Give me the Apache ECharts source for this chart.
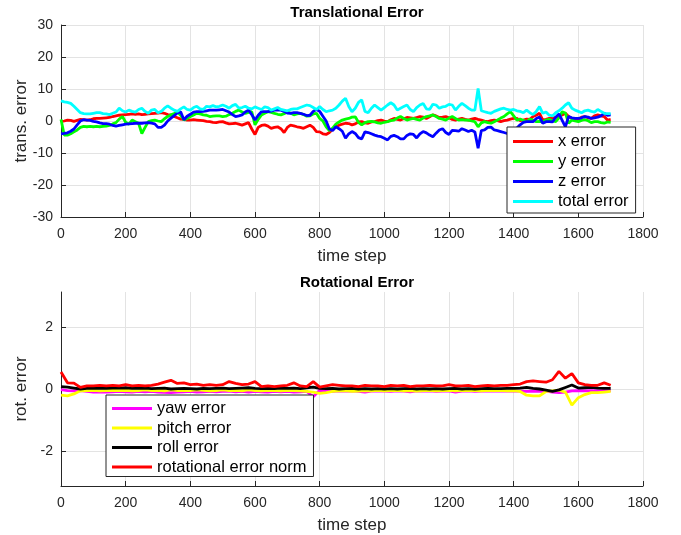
<!DOCTYPE html>
<html>
<head>
<meta charset="utf-8">
<script src="https://cdn.jsdelivr.net/npm/echarts@6/dist/echarts.min.js"></script>
<style>
  html, body { margin: 0; padding: 0; background: #fff; }
  #chart { width: 681px; height: 535px; }
</style>
</head>
<body>
<div id="chart"></div>
<script>
// time steps (top: every 10 steps, bottom: every 20 steps)
const transSteps = Array.from({ length: 171 }, (_, i) => i * 10);
const rotSteps = Array.from({ length: 86 }, (_, i) => i * 20);

// translational error
const xErr = [
  -0.2, 0.0, 0.3, 0.2, -0.1, 0.2, 0.5, 0.4, 0.3, 0.4,
  0.7, 0.8, 0.8, 0.9, 1.0, 1.1, 1.4, 1.6, 1.8, 1.9,
  2.0, 2.1, 2.2, 2.1, 2.2, 2.0, 2.1, 2.2, 2.3, 2.4,
  2.5, 2.6, 2.4, 2.0, 1.9, 1.4, 1.0, 0.6, 0.5, 0.3,
  0.3, 0.4, 0.3, 0.2, 0.1, -0.1, -0.2, -0.4, -0.5, -0.3,
  -0.2, -0.6, -0.9, -0.8, -0.7, -1.0, -1.3, -0.9, -0.5, -2.5,
  -4.2, -2.0, -1.4, -1.2, -1.6, -2.3, -2.0, -1.8, -2.4, -3.6,
  -2.0, -1.3, -1.5, -1.8, -2.0, -2.3, -1.8, -1.3, -2.0, -3.3,
  -3.4, -4.0, -4.2, -3.6, -2.6, -1.8, -1.3, -1.0, -0.7, -0.8,
  -1.2, -0.9, -0.3, -0.2, -0.6, -0.7, -0.3, -0.2, 0.1, 0.3,
  0.0, -0.2, 0.4, 0.8, 0.5, 0.3, 0.7, 1.1, 1.0, 0.8,
  1.1, 1.4, 1.2, 0.8, 1.3, 1.9, 1.6, 1.1, 1.2, 1.4,
  1.0, 0.5, 0.3, 0.6, 0.8, 0.5, 0.3, 0.6, 0.8, 0.5,
  0.3, 0.0, -0.2, 0.1, 0.3, 0.1, -0.2, 0.1, 0.3, 0.6,
  0.8, 0.8, 0.1, 0.3, 0.6, 0.5, 1.4, 1.8, 2.4, 0.3,
  0.5, 0.8, 0.9, 1.1, 1.6, 1.9, 2.4, 1.4, 0.8, 0.3,
  0.4, 1.2, 1.4, 1.0, 0.8, 1.6, 1.9, 1.6, 1.4, 0.3,
  0.5
];
const yErr = [
  0.5, -4.4, -4.4, -4.0, -3.4, -2.8, -2.0, -1.7, -1.8, -1.7,
  -1.8, -1.7, -1.8, -1.7, -1.6, -1.4, -0.9, -0.5, 0.6, 1.4,
  -0.4, -1.0, 0.3, -0.2, -0.7, -3.9, -2.0, -0.2, 0.1, 0.3,
  0.0, -0.2, 0.7, 1.4, 1.9, 2.3, 2.9, 1.8, 0.3, 0.8,
  1.4, 1.9, 2.4, 2.2, 1.9, 1.8, 1.4, 1.5, 1.6, 1.6,
  1.4, 1.5, 2.0, 2.4, 3.0, 3.4, 2.8, 2.4, 2.7, 2.9,
  -1.2, 0.5, 1.9, 2.4, 2.9, 2.7, 2.4, 2.1, 1.9, 2.3,
  2.8, 2.5, 1.9, 2.2, 2.4, 2.0, 1.5, 1.6, 2.2, 2.4,
  0.8, 0.0, -1.8, -3.0, -2.2, -1.0, -0.3, 0.3, 0.6, 0.8,
  1.2, 1.3, -0.4, -1.2, -0.5, -0.2, -0.1, -0.3, -0.6, -0.7,
  -0.4, -0.2, 0.1, 0.3, 0.9, 1.4, 0.8, 0.3, 0.6, 0.8,
  0.5, 0.3, 0.9, 1.4, 1.6, 1.9, 1.4, 0.8, 0.6, 0.3,
  0.9, 1.4, 0.8, 0.3, 0.4, 0.3, 0.3, 0.0, -0.2, -1.8,
  -0.6, -0.2, -0.5, -0.7, -0.2, 0.3, 0.9, 1.4, 2.2, 2.9,
  1.6, 0.3, 0.6, 0.2, -0.2, 0.6, 0.3, -0.2, -0.1, -0.2,
  0.3, 0.5, 0.1, -0.2, 1.0, 2.9, 2.5, -0.7, 0.3, 0.0,
  -0.2, 0.2, 0.4, 0.1, -0.5, -0.2, -0.2, -0.5, -0.7, -0.3,
  -0.4
];
const zErr = [
  -4.0, -3.9, -3.7, -3.2, -2.5, -1.2, 0.0, 0.4, 0.3, 0.2,
  -0.1, -0.3, -0.6, -0.8, -0.8, -1.0, -1.4, -1.6, -1.4, -1.2,
  -1.0, -0.9, -0.8, -0.7, -0.7, -0.7, -0.6, -0.5, -0.7, -0.9,
  -2.0, -2.0, -1.3, 0.0, 0.9, 1.7, 2.5, 2.9, 0.4, 1.5,
  2.1, 2.8, 2.9, 2.9, 3.0, 3.2, 3.4, 3.4, 3.4, 3.5,
  3.6, 3.2, 2.8, 2.0, 1.4, 1.6, 1.9, 2.8, 3.4, 2.0,
  0.3, 1.8, 2.9, 2.9, 2.9, 3.1, 3.4, 3.4, 3.4, 3.0,
  2.5, 2.4, 2.6, 2.6, 2.4, 2.1, 1.7, 1.8, 3.0, 3.6,
  3.0, 1.5, 0.0, -2.5, -3.0, -1.8, -2.4, -3.2, -5.4, -4.0,
  -3.3, -3.9, -5.2, -5.6, -3.4, -3.6, -4.0, -4.4, -4.7, -4.9,
  -5.4, -5.9, -4.8, -4.5, -4.9, -5.6, -5.6, -4.5, -4.0, -4.2,
  -5.3, -4.0, -3.3, -3.7, -4.4, -4.9, -3.8, -2.8, -2.4, -3.6,
  -4.2, -2.9, -3.0, -3.2, -2.4, -2.8, -3.3, -2.9, -3.4, -8.5,
  -3.0, -2.8, -2.0, -1.9, -2.8, -3.0, -3.3, -3.6, -3.9, -3.6,
  -3.0, -2.2, -1.2, -0.4, -0.2, -0.2, -0.2, 0.8, 1.2, -0.7,
  -0.2, -0.2, -0.3, 1.2, 2.2, 0.2, -1.8, 1.4, 1.0, 0.8,
  0.8, 1.0, 1.4, 1.2, 0.8, 1.0, 1.2, 1.6, 2.4, 1.8,
  1.9
];
const totalErr = [
  6.3, 6.0, 5.8, 5.5, 4.6, 3.6, 2.6, 2.3, 2.2, 2.2,
  2.4, 2.6, 2.6, 2.3, 2.2, 2.0, 2.4, 2.8, 4.0, 3.2,
  2.8, 3.4, 3.0, 2.8, 3.6, 4.0, 3.0, 2.4, 3.4, 3.6,
  2.6, 3.0, 4.0, 4.7, 4.0, 3.4, 3.0, 3.8, 4.4, 3.6,
  3.4, 4.2, 4.6, 3.8, 3.6, 4.6, 4.4, 4.8, 4.4, 4.6,
  5.0, 4.6, 4.0, 4.8, 5.2, 4.0, 4.2, 4.6, 4.0, 3.8,
  4.4, 4.0, 3.6, 4.4, 4.2, 3.4, 3.8, 4.2, 3.6, 3.4,
  3.2, 3.6, 3.8, 3.8, 4.2, 4.6, 5.0, 4.8, 4.2, 3.6,
  4.5, 3.6, 2.9, 3.2, 3.4, 4.0, 5.0, 6.2, 7.1, 4.5,
  2.9, 4.0, 5.8, 6.6, 3.0, 2.6, 4.0, 5.0, 4.2, 3.4,
  4.2, 5.0, 5.7, 5.0, 3.4, 4.0, 4.5, 5.0, 3.6, 2.9,
  4.2, 5.0, 5.5, 3.8, 3.6, 5.2, 5.0, 4.0, 4.4, 4.6,
  5.2, 5.0, 3.4, 4.6, 5.5, 4.8, 4.0, 3.4, 3.4, 10.2,
  3.2, 2.9, 2.6, 2.4, 3.0, 3.4, 3.8, 4.0, 3.6, 3.4,
  3.6, 3.2, 3.0, 2.6, 3.4, 2.6, 2.0, 3.0, 4.5, 2.4,
  2.8, 1.8, 1.6, 2.6, 3.2, 4.0, 5.0, 5.7, 4.0, 3.4,
  3.0, 2.6, 3.2, 3.4, 3.0, 2.8, 3.6, 3.0, 2.4, 2.3,
  2.3
];

// rotational error
const yawErr = [
  -0.02, -0.05, -0.06, -0.05, -0.08, -0.1, -0.09, -0.1, -0.09, -0.08,
  -0.09, -0.1, -0.08, -0.09, -0.08, -0.1, -0.11, -0.12, -0.1, -0.09,
  -0.08, -0.1, -0.09, -0.08, -0.09, -0.08, -0.07, -0.09, -0.08, -0.1,
  -0.08, -0.09, -0.1, -0.08, -0.09, -0.08, -0.1, -0.09, -0.08, -0.25,
  -0.04, -0.06, -0.08, -0.06, -0.07, -0.06, -0.08, -0.1, -0.07, -0.06,
  -0.07, -0.08, -0.06, -0.07, -0.09, -0.06, -0.07, -0.06, -0.08, -0.07,
  -0.06, -0.1, -0.07, -0.06, -0.08, -0.07, -0.06, -0.07, -0.06, -0.07,
  -0.06, -0.07, -0.08, -0.07, -0.08, -0.07, -0.1, -0.12, -0.1, -0.06,
  -0.05, -0.06, -0.05, -0.06, -0.05, -0.05
];
const pitchErr = [
  -0.2, -0.22, -0.16, -0.06, -0.05, -0.04, -0.06, -0.05, -0.04, -0.05,
  -0.04, -0.06, -0.05, -0.03, -0.05, -0.04, -0.06, -0.03, -0.05, -0.04,
  -0.05, -0.03, -0.04, -0.06, -0.05, -0.03, -0.05, -0.04, -0.06, -0.03,
  -0.05, -0.06, -0.04, -0.05, -0.06, -0.04, -0.05, -0.06, -0.08, -0.1,
  -0.14, -0.12, -0.08, -0.06, -0.05, -0.08, -0.07, -0.05, -0.06, -0.04,
  -0.06, -0.05, -0.04, -0.06, -0.05, -0.07, -0.05, -0.04, -0.06, -0.05,
  -0.04, -0.06, -0.05, -0.04, -0.05, -0.06, -0.04, -0.05, -0.04, -0.06,
  -0.05, -0.08, -0.2, -0.22, -0.22, -0.08, -0.06, -0.04, -0.1, -0.52,
  -0.28, -0.18, -0.12, -0.12, -0.1, -0.08
];
const rollErr = [
  0.08, 0.06, 0.03, 0.0, 0.02, 0.02, 0.03, 0.02, 0.03, 0.03,
  0.04, 0.02, 0.02, 0.03, 0.01, 0.02, 0.03, 0.0, 0.01, 0.02,
  0.01, 0.0, 0.02, 0.01, 0.02, 0.03, 0.01, 0.02, 0.03, 0.04,
  0.02, 0.01, 0.02, 0.01, 0.03, 0.02, 0.03, 0.01, 0.04, 0.06,
  0.02, 0.01, 0.02, 0.0, 0.01, 0.02, 0.0, 0.01, 0.0, 0.01,
  0.0, 0.01, 0.0, 0.01, 0.02, 0.0, 0.01, 0.0, 0.01, 0.0,
  0.01, 0.02, 0.0, 0.01, 0.0, 0.01, 0.02, 0.01, 0.01, 0.02,
  0.02, 0.03, 0.05, 0.02, 0.0, -0.04, -0.08, -0.03, 0.05, 0.13,
  0.03, 0.04, 0.05, 0.03, 0.02, 0.02
];
const rotNorm = [
  0.55, 0.2, 0.19, 0.05, 0.1, 0.1, 0.12, 0.1, 0.12, 0.1,
  0.14, 0.1, 0.12, 0.1, 0.12, 0.16, 0.22, 0.28, 0.18, 0.2,
  0.14, 0.16, 0.12, 0.14, 0.12, 0.14, 0.24, 0.18, 0.14, 0.16,
  0.24, 0.08, 0.1, 0.08, 0.1, 0.12, 0.2, 0.1, 0.08, 0.24,
  0.06, 0.1, 0.14, 0.12, 0.1, 0.1, 0.08, 0.12, 0.1, 0.1,
  0.08, 0.12, 0.1, 0.12, 0.08, 0.1, 0.1, 0.12, 0.1, 0.1,
  0.14, 0.1, 0.1, 0.12, 0.08, 0.1, 0.12, 0.1, 0.12, 0.12,
  0.14, 0.16, 0.24, 0.26, 0.24, 0.22, 0.3, 0.57, 0.35, 0.5,
  0.2, 0.14, 0.12, 0.12, 0.2, 0.12
];

const rotTicks = [-2, 0, 2];

const chart = echarts.init(document.getElementById('chart'));

const FONT = 'Liberation Sans, Arial, Helvetica, sans-serif';
const AXIS = '#262626';
const GRID = '#e3e3e3';

function pairs(steps, vals) {
  return steps.map((s, i) => [s, vals[i]]);
}

function xAxisOpt(gridIndex) {
  return {
    type: 'value', gridIndex: gridIndex,
    min: 0, max: 1800, interval: 200,
    name: 'time step', nameLocation: 'middle', nameGap: 31,
    nameTextStyle: { fontSize: 17, color: AXIS, fontFamily: FONT },
    axisLine: { onZero: false, lineStyle: { color: AXIS, width: 1 } },
    axisTick: { inside: true, length: 5, lineStyle: { color: AXIS } },
    axisLabel: { fontSize: 14, color: AXIS, fontFamily: FONT, margin: 10,
      formatter: v => String(v) },
    splitLine: { show: true, lineStyle: { color: GRID, width: 1 } }
  };
}

function yName(text) {
  return {
    name: text, nameLocation: 'middle', nameGap: 31, nameMoveOverlap: false,
    nameTextStyle: { fontSize: 17, color: AXIS, fontFamily: FONT }
  };
}

function line(name, x, y, color, xi) {
  return {
    name: name, type: 'line', xAxisIndex: xi, yAxisIndex: xi,
    data: pairs(x, y), showSymbol: false, symbol: 'none',
    lineStyle: { color: color, width: 2.8 }, itemStyle: { color: color },
    emphasis: { disabled: true }
  };
}

const legendBase = {
  orient: 'vertical', icon: 'rect', itemWidth: 40, itemHeight: 3,
  borderColor: AXIS, borderWidth: 1, borderRadius: 0, backgroundColor: '#fff',
  textStyle: { fontSize: 16.5, color: '#000', fontFamily: FONT, lineHeight: 16 },
  selectedMode: false
};

chart.setOption({
  animation: false,
  backgroundColor: '#fff',
  title: [
    { text: 'Translational Error', left: 352, top: 0, textAlign: 'center',
      textStyle: { fontSize: 15, fontWeight: 'bold', color: '#000', fontFamily: FONT } },
    { text: 'Rotational Error', left: 352, top: 270, textAlign: 'center',
      textStyle: { fontSize: 15, fontWeight: 'bold', color: '#000', fontFamily: FONT } }
  ],
  grid: [
    { left: 61, width: 582, top: 25, height: 192 },
    { left: 61, width: 582, top: 292, height: 194 }
  ],
  xAxis: [xAxisOpt(0), xAxisOpt(1)],
  yAxis: [
    Object.assign({
      type: 'value', gridIndex: 0, min: -30, max: 30, interval: 10,
      axisLine: { show: true, lineStyle: { color: AXIS, width: 1 } },
      axisTick: { show: true, inside: true, length: 5, lineStyle: { color: AXIS } },
      axisLabel: { fontSize: 14, color: AXIS, fontFamily: FONT, margin: 8 },
      splitLine: { show: true, lineStyle: { color: GRID, width: 1 } }
    }, yName('trans. error')),
    Object.assign({
      type: 'value', gridIndex: 1, min: -Math.PI, max: Math.PI,
      axisLine: { show: true, lineStyle: { color: AXIS, width: 1 } },
      axisTick: { show: true, inside: true, length: 5, customValues: rotTicks, lineStyle: { color: AXIS } },
      axisLabel: { fontSize: 14, color: AXIS, fontFamily: FONT, margin: 8, customValues: rotTicks },
      splitLine: { show: true, lineStyle: { color: GRID, width: 1 } }
    }, yName('rot. error'))
  ],
  legend: [
    Object.assign({}, legendBase, {
      data: ['x error', 'y error', 'z error', 'total error'],
      left: 507, top: 127, itemGap: 3, padding: [6, 7, 3, 6]
    }),
    Object.assign({}, legendBase, {
      data: ['yaw error', 'pitch error', 'roll error', 'rotational error norm'],
      left: 106, top: 395, itemGap: 2.5, padding: [5, 7, 1, 6]
    })
  ],
  series: [
    line('x error', transSteps, xErr, '#ff0000', 0),
    line('y error', transSteps, yErr, '#00ff00', 0),
    line('z error', transSteps, zErr, '#0000ff', 0),
    line('total error', transSteps, totalErr, '#00ffff', 0),
    line('yaw error', rotSteps, yawErr, '#ff00ff', 1),
    line('pitch error', rotSteps, pitchErr, '#ffff00', 1),
    line('roll error', rotSteps, rollErr, '#000000', 1),
    line('rotational error norm', rotSteps, rotNorm, '#ff0000', 1)
  ]
});
</script>
</body>
</html>
